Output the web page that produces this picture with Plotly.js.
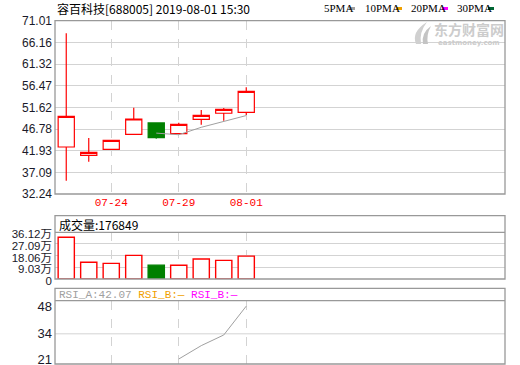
<!DOCTYPE html>
<html>
<head>
<meta charset="utf-8">
<script src="https://cdn.plot.ly/plotly-3.0.1.min.js"></script>
<style>
html,body{margin:0;padding:0;background:#fff;}
#chart{width:520px;height:365px;}
</style>
</head>
<body>
<div id="chart"></div>
<script>
// ---- data ----
const dates = ['07-22','07-23','07-24','07-25','07-26','07-29','07-30','07-31','08-01'];
const openP  = [42.76, 40.90, 42.24, 45.60, 48.13, 45.73, 48.95, 50.30, 50.52];
const highP  = [68.19, 44.77, 44.40, 51.55, 48.13, 48.19, 51.03, 51.48, 56.11];
const lowP   = [35.22, 39.47, 42.24, 45.60, 44.60, 45.73, 47.75, 48.64, 49.91];
const closeP = [49.62, 41.57, 44.25, 49.02, 44.84, 47.83, 49.85, 51.19, 55.22];
const ma5Dates = ['07-26','07-29','07-30','07-31','08-01'];
const ma5 = [45.86, 45.50, 47.16, 48.55, 49.79];
const volume = [32.25, 12.90, 12.10, 18.30, 10.70, 10.60, 15.50, 14.40, 17.68]; // 万
const rsiDates = ['07-29','07-30','07-31','08-01'];
const rsiA = [21.0, 27.9, 33.4, 48.3];
const dateTicks = ['07-24','07-29','08-01'];
const priceTicks = [32.24, 37.09, 41.93, 46.78, 51.62, 56.47, 61.32, 66.16, 71.01];
const volTicks = [0, 9.03, 18.06, 27.09, 36.12];
const volTickText = ['0','9.03万','18.06万','27.09万','36.12万'];
const rsiTicks = [21, 34, 48];
const titleText = '容百科技[688005] 2019-08-01 15:30';
const volLabel = '成交量:176849';
const legendNames = ['5PMA','10PMA','20PMA','30PMA'];
const legendColors = ['#a0a0a0','#f0a000','#ff00ff','#006633'];

// ---- layout helpers (pixel -> paper) ----
const W = 520, H = 365;
const X = px => px / W;
const Y = py => 1 - py / H;

const UP = '#ff0000', DOWN = '#008000', GRID = '#d3d3d3', BORDER = '#999999';
const volColors = closeP.map((c, i) => c >= openP[i] ? '#ffffff' : DOWN);
const volLines = closeP.map((c, i) => c >= openP[i] ? UP : DOWN);

const traces = [
  {
    type: 'candlestick', x: dates, open: openP, high: highP, low: lowP, close: closeP,
    xaxis: 'x', yaxis: 'y', whiskerwidth: 0,
    increasing: {line: {color: UP, width: 1.2}, fillcolor: '#ffffff'},
    decreasing: {line: {color: DOWN, width: 1.2}, fillcolor: DOWN},
    hoverinfo: 'skip', showlegend: false
  },
  {
    type: 'scatter', mode: 'lines', x: ma5Dates, y: ma5, xaxis: 'x', yaxis: 'y',
    line: {color: '#a0a0a0', width: 1}, hoverinfo: 'skip', showlegend: false
  },
  {
    type: 'bar', x: dates, y: volume, xaxis: 'x2', yaxis: 'y2',
    marker: {color: volColors, line: {color: volLines, width: 1.4}},
    hoverinfo: 'skip', showlegend: false
  },
  {
    type: 'scatter', mode: 'lines', x: rsiDates, y: rsiA, xaxis: 'x3', yaxis: 'y3',
    line: {color: '#a0a0a0', width: 1}, hoverinfo: 'skip', showlegend: false
  }
];

const xBase = {
  type: 'category', categoryorder: 'array', categoryarray: dates,
  range: [-0.5, 19.5], domain: [X(55), X(505)], fixedrange: true,
  tickvals: dateTicks, showgrid: true, gridcolor: GRID, griddash: 'dash', gridwidth: 1,
  zeroline: false, showline: false, ticks: ''
};
const tickFont = {family: 'Liberation Sans, Arial, sans-serif', size: 12, color: '#1a1a2a'};

const layout = {
  width: W, height: H, margin: {l: 0, r: 0, t: 0, b: 0},
  paper_bgcolor: '#ffffff', plot_bgcolor: '#ffffff',
  showlegend: false, bargap: 0.28, boxgap: 0.28, boxgroupgap: 0,
  xaxis: Object.assign({}, xBase, {anchor: 'y', showticklabels: true,
    tickfont: {family: 'Liberation Mono, DejaVu Sans Mono, monospace', size: 11, color: '#ff0000'},
    rangeslider: {visible: false}}),
  xaxis2: Object.assign({}, xBase, {anchor: 'y2', showticklabels: false}),
  xaxis3: Object.assign({}, xBase, {anchor: 'y3', showticklabels: false}),
  yaxis: {domain: [Y(194), Y(20.7)], range: [priceTicks[0], priceTicks[priceTicks.length-1]],
    tickvals: priceTicks, ticktext: priceTicks.map(v => v.toFixed(2)),
    showgrid: true, gridcolor: GRID, zeroline: false, ticks: '', tickfont: tickFont,
    fixedrange: true, ticklabelstandoff: 2, ticklabeloverflow: 'allow'},
  yaxis2: {domain: [Y(279), Y(232.3)], range: [volTicks[0], volTicks[volTicks.length-1]],
    tickvals: volTicks, ticktext: volTickText,
    showgrid: true, gridcolor: GRID, zeroline: false, ticks: '', fixedrange: true,
    tickfont: {family: 'Liberation Sans, Noto Sans CJK SC, sans-serif', size: 11.5, color: '#1a1a2a'},
    ticklabelstandoff: 2, ticklabelshift: 2, ticklabeloverflow: 'allow'},
  yaxis3: {domain: [Y(364), Y(300.7)], range: [18.42, 51.10],
    tickvals: rsiTicks, showgrid: false, zeroline: false, ticks: '', fixedrange: true,
    tickfont: {family: 'Liberation Sans, Arial, sans-serif', size: 13, color: '#1a1a2a'},
    ticklabelstandoff: 2, ticklabelshift: 5.5, ticklabeloverflow: 'allow'},
  shapes: [
    // panel borders
    {type: 'rect', xref: 'paper', yref: 'paper', x0: X(55), x1: X(505), y0: Y(194), y1: Y(20.7),
      line: {color: BORDER, width: 1.3}},
    {type: 'rect', xref: 'paper', yref: 'paper', x0: X(55), x1: X(505), y0: Y(279), y1: Y(215.7),
      line: {color: BORDER, width: 1.3}},
    {type: 'line', xref: 'paper', yref: 'paper', x0: X(55), x1: X(505), y0: Y(232.3), y1: Y(232.3),
      line: {color: BORDER, width: 1.3}},
    {type: 'rect', xref: 'paper', yref: 'paper', x0: X(55), x1: X(505), y0: Y(364), y1: Y(288.3),
      line: {color: BORDER, width: 1.3}},
    {type: 'line', xref: 'paper', yref: 'paper', x0: X(55), x1: X(505), y0: Y(300.7), y1: Y(300.7),
      line: {color: BORDER, width: 1.3}},
    // RSI mid grid line
    {type: 'line', xref: 'paper', yref: 'y3', x0: X(55), x1: X(505), y0: rsiTicks[1], y1: rsiTicks[1],
      line: {color: GRID, width: 1}, layer: 'below'},
    // logo swoosh
    {type: 'path', xref: 'paper', yref: 'paper', fillcolor: '#d0d0d0', line: {width: 0},
      path: `M ${X(416)} ${Y(44)} Q ${X(411)} ${Y(32)} ${X(427)} ${Y(22)} Q ${X(419)} ${Y(32)} ${X(421)} ${Y(44)} Z`},
    {type: 'path', xref: 'paper', yref: 'paper', fillcolor: '#c4c4c4', line: {width: 0},
      path: `M ${X(423)} ${Y(44)} Q ${X(421)} ${Y(33)} ${X(431)} ${Y(26)} Q ${X(426)} ${Y(35)} ${X(428)} ${Y(44)} Z`}
  ],
  annotations: [
    {xref: 'paper', yref: 'paper', x: X(55), y: Y(8), xanchor: 'left', yanchor: 'middle',
      text: titleText, showarrow: false,
      font: {family: 'Noto Sans CJK SC, sans-serif', size: 12, color: '#000'}},
    {xref: 'paper', yref: 'paper', x: X(57), y: Y(224), xanchor: 'left', yanchor: 'middle',
      text: volLabel, showarrow: false,
      font: {family: 'Noto Sans CJK SC, sans-serif', size: 12, color: '#000'}},
    {xref: 'paper', yref: 'paper', x: X(57), y: Y(294.5), xanchor: 'left', yanchor: 'middle',
      text: '<span style="color:#a0a0a0">RSI_A:42.07</span> <span style="color:#f0a000">RSI_B:—</span> <span style="color:#ff00ff">RSI_B:—</span>',
      showarrow: false, font: {family: 'Liberation Mono, DejaVu Sans Mono, monospace', size: 11, color: '#a0a0a0'}},
    {xref: 'paper', yref: 'paper', x: X(469), y: Y(29), xanchor: 'center', yanchor: 'middle',
      text: '<b>东方财富网</b>', showarrow: false,
      font: {family: 'Noto Sans CJK SC, sans-serif', size: 14, color: '#cccccc'}},
    {xref: 'paper', yref: 'paper', x: X(469), y: Y(43), xanchor: 'center', yanchor: 'middle',
      text: '<b>eastmoney.com</b>', showarrow: false,
      font: {family: 'DejaVu Sans, sans-serif', size: 7, color: '#cccccc'}}
  ]
};

// legend items at top right
const legendX = [322, 363, 409, 455];
const markX = [349, 396, 442, 488];
legendNames.forEach((name, i) => {
  layout.annotations.push({xref: 'paper', yref: 'paper', x: X(legendX[i]), y: Y(8), xanchor: 'left', yanchor: 'middle',
    text: name, showarrow: false, font: {family: 'Liberation Serif, serif', size: 11, color: '#000'}});
  layout.shapes.push({type: 'rect', xref: 'paper', yref: 'paper', x0: X(markX[i]), x1: X(markX[i] + 6),
    y0: Y(10), y1: Y(7), fillcolor: legendColors[i], line: {width: 0}});
});

Plotly.newPlot('chart', traces, layout, {staticPlot: true, displayModeBar: false});
</script>
</body>
</html>
